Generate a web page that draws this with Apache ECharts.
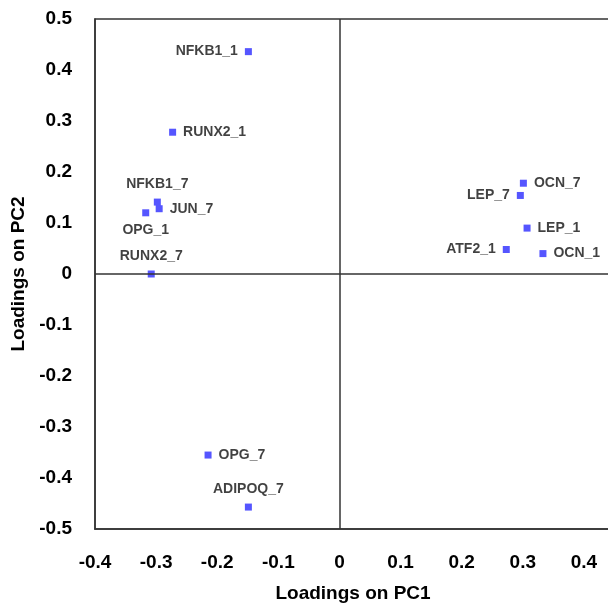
<!DOCTYPE html>
<html>
<head>
<meta charset="UTF-8">
<title>PCA loadings</title>
<style>
    body { margin: 0; padding: 0; background: #FFFFFF; overflow: hidden; }
    #main_chart { width: 608px; height: 603px; }
</style>
</head>
<body>
<div id="main_chart"></div>
<script src="https://cdn.jsdelivr.net/npm/echarts@6/dist/echarts.min.js"></script>
<script>
// loadings
var genes = ['NFKB1_1', 'RUNX2_1', 'NFKB1_7', 'JUN_7', 'OPG_1', 'RUNX2_7',
             'OCN_7', 'LEP_7', 'LEP_1', 'ATF2_1', 'OCN_1', 'OPG_7', 'ADIPOQ_7'];
var pc1 = [-0.149, -0.273, -0.298, -0.295, -0.317, -0.308,
            0.301,  0.296,  0.307,  0.273,  0.333, -0.215, -0.149];
var pc2 = [ 0.436,  0.278,  0.141,  0.128,  0.120,  0.000,
            0.178,  0.154,  0.090,  0.048,  0.040, -0.355, -0.457];
var labelPos = ['left', 'right', 'top', 'right', 'bottom', 'top',
                'right', 'left', 'right', 'left', 'right', 'right', 'top'];

var fontFam = '"Liberation Sans", Arial, sans-serif';

var points = genes.map(function (g, i) {
    return {
        name: g,
        value: [pc1[i], pc2[i]],
        label: { position: labelPos[i] }
    };
});

var option = {
    animation: false,
    grid: {
        left: 95, top: 19, right: -37, bottom: 74,
        outerBoundsMode: 'none',
        containLabel: false,
        show: true, borderColor: '#333', borderWidth: 1.5
    },
    xAxis: {
        type: 'value', min: -0.4, max: 0.5, interval: 0.1,
        name: 'Loadings on PC1', nameLocation: 'middle', nameGap: 55,
        nameTextStyle: { fontFamily: fontFam, fontWeight: 'bold', fontSize: 19, color: '#000', padding: [0, 34, 0, 0] },
        axisLine: { onZero: false, lineStyle: { color: '#333', width: 1.5 } },
        axisTick: { show: false },
        splitLine: { show: false },
        axisLabel: {
            margin: 24, fontFamily: fontFam, fontWeight: 'bold', fontSize: 19, color: '#000',
            formatter: function (v) { return String(Math.round(v * 10) / 10); }
        }
    },
    yAxis: {
        type: 'value', min: -0.5, max: 0.5, interval: 0.1,
        name: 'Loadings on PC2', nameLocation: 'middle', nameGap: 67,
        nameTextStyle: { fontFamily: fontFam, fontWeight: 'bold', fontSize: 19, color: '#000' },
        axisLine: { onZero: false, lineStyle: { color: '#333', width: 1.5 } },
        axisTick: { show: false },
        splitLine: { show: false },
        axisLabel: {
            margin: 23, fontFamily: fontFam, fontWeight: 'bold', fontSize: 19, color: '#000',
            formatter: function (v) { return String(Math.round(v * 10) / 10); }
        }
    },
    series: [{
        type: 'scatter',
        symbol: 'rect',
        symbolSize: 7,
        itemStyle: { color: '#2b2bff' },
        label: {
            show: true,
            formatter: '{b}',
            distance: 7,
            fontFamily: fontFam, fontWeight: 'bold', fontSize: 14, color: '#111'
        },
        data: points,
        markLine: {
            silent: true,
            symbol: 'none',
            label: { show: false },
            lineStyle: { color: '#333', width: 1.5, type: 'solid' },
            data: [{ xAxis: 0 }, { yAxis: 0 }]
        }
    }]
};

var chart = echarts.init(document.getElementById('main_chart'));
chart.setOption(option);
</script>
</body>
</html>
